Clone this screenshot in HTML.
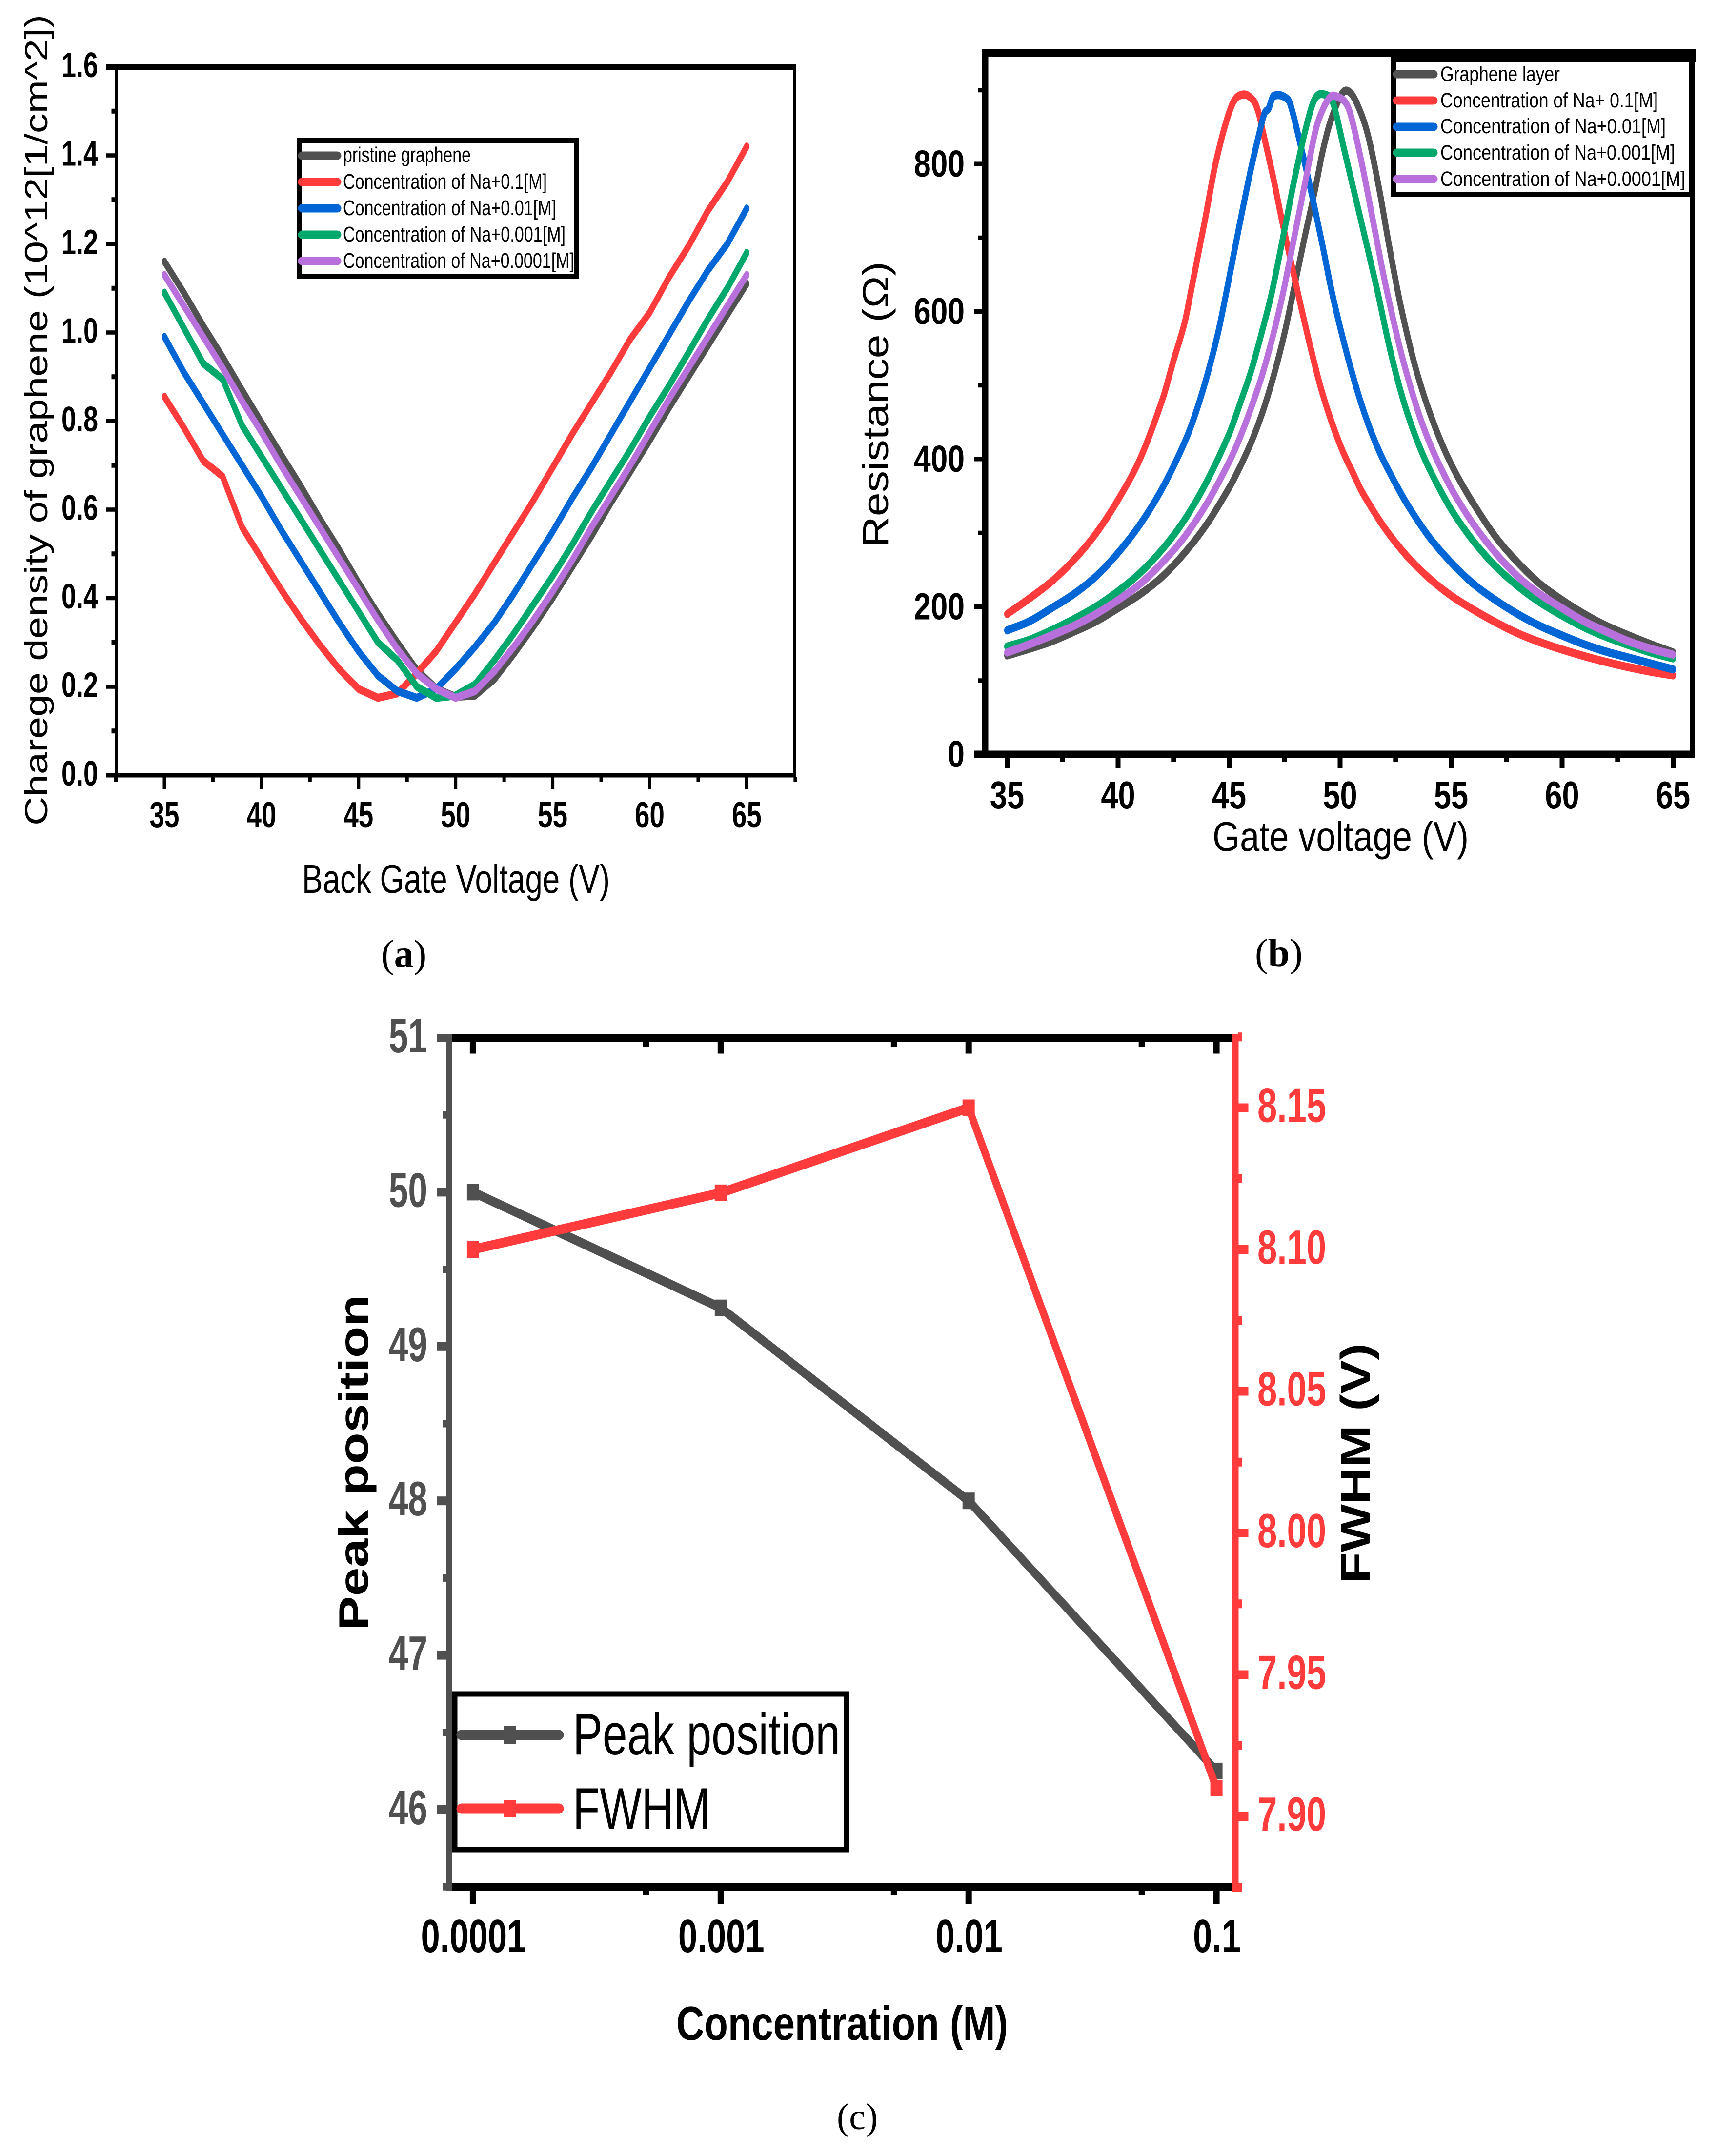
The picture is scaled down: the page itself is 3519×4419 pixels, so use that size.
<!DOCTYPE html>
<html lang="en">
<head>
<meta charset="utf-8">
<title>Graphene charge density, resistance and peak position charts</title>
<style>
html,body{margin:0;padding:0;background:#fff;}
svg{display:block;}
text{font-family:"Liberation Sans",sans-serif;fill:#000;}
.serif{font-family:"Liberation Serif",serif;}
</style>
</head>
<body>
<svg id="figure" xmlns="http://www.w3.org/2000/svg" width="3519" height="4419" viewBox="0 0 3519 4419">
<rect x="0" y="0" width="3519" height="4419" fill="#fff"/>

<!-- PANEL A -->
<g id="panel-a">
  <g id="a-ticks"></g>
  <rect x="217" y="132" width="1414" height="11" fill="#000"/>
  <rect x="235" y="137" width="7" height="1456" fill="#000"/>
  <rect x="1625" y="137" width="6" height="1456" fill="#000"/>
  <rect x="217" y="1584.5" width="1414" height="9" fill="#000"/>
  <g id="a-series"></g>
  <text transform="translate(97,1692) rotate(-90)" font-size="66" textLength="1662" lengthAdjust="spacingAndGlyphs">Charege density of graphene (10^12[1/cm^2])</text>
  <text x="619" y="1830" font-size="83" textLength="631" lengthAdjust="spacingAndGlyphs">Back Gate Voltage (V)</text>
  <g>
    <rect x="613" y="288" width="569" height="278" fill="#fff" stroke="#000" stroke-width="10"/>
    <line x1="619" y1="319" x2="691" y2="319" stroke="#515151" stroke-width="17" stroke-linecap="round"/>
    <line x1="619" y1="373" x2="691" y2="373" stroke="#ff3b3b" stroke-width="17" stroke-linecap="round"/>
    <line x1="619" y1="427" x2="691" y2="427" stroke="#0066d6" stroke-width="17" stroke-linecap="round"/>
    <line x1="619" y1="481" x2="691" y2="481" stroke="#00a86b" stroke-width="17" stroke-linecap="round"/>
    <line x1="619" y1="535" x2="691" y2="535" stroke="#b871dc" stroke-width="17" stroke-linecap="round"/>
    <text x="703" y="332" font-size="44" textLength="262" lengthAdjust="spacingAndGlyphs">pristine graphene</text>
    <text x="703" y="387" font-size="44" textLength="418" lengthAdjust="spacingAndGlyphs">Concentration of Na+0.1[M]</text>
    <text x="703" y="441" font-size="44" textLength="437" lengthAdjust="spacingAndGlyphs">Concentration of Na+0.01[M]</text>
    <text x="703" y="495" font-size="44" textLength="456" lengthAdjust="spacingAndGlyphs">Concentration of Na+0.001[M]</text>
    <text x="703" y="549" font-size="44" textLength="474" lengthAdjust="spacingAndGlyphs">Concentration of Na+0.0001[M]</text>
  </g>
  <text class="serif" x="781" y="1982" font-size="80">(<tspan font-weight="bold" class="serif">a</tspan>)</text>
</g>

<!-- PANEL B -->
<g id="panel-b">
  <g id="b-ticks"></g>
  <rect x="2012" y="101" width="1464" height="16" fill="#000"/>
  <rect x="2012" y="101" width="13.5" height="1453" fill="#000"/>
  <rect x="3463" y="101" width="11" height="1453" fill="#000"/>
  <rect x="1996" y="1538.5" width="1478" height="15.5" fill="#000"/>
  <g id="b-series"></g>
  <text transform="translate(1820,1122) rotate(-90)" font-size="74" textLength="586" lengthAdjust="spacingAndGlyphs">Resistance (Ω)</text>
  <text x="2485" y="1744" font-size="85" textLength="525" lengthAdjust="spacingAndGlyphs">Gate voltage (V)</text>
  <g>
    <rect x="2856" y="112" width="611" height="286" fill="#fff" stroke="#000" stroke-width="10"/>
    <rect x="2852" y="101" width="624" height="27" fill="#000"/>
    <line x1="2863" y1="152" x2="2938" y2="152" stroke="#515151" stroke-width="17" stroke-linecap="round"/>
    <line x1="2863" y1="206" x2="2938" y2="206" stroke="#ff3b3b" stroke-width="17" stroke-linecap="round"/>
    <line x1="2863" y1="260" x2="2938" y2="260" stroke="#0066d6" stroke-width="17" stroke-linecap="round"/>
    <line x1="2863" y1="313" x2="2938" y2="313" stroke="#00a86b" stroke-width="17" stroke-linecap="round"/>
    <line x1="2863" y1="367" x2="2938" y2="367" stroke="#b871dc" stroke-width="17" stroke-linecap="round"/>
    <text x="2952" y="166" font-size="43" textLength="245" lengthAdjust="spacingAndGlyphs">Graphene layer</text>
    <text x="2952" y="220" font-size="43" textLength="446" lengthAdjust="spacingAndGlyphs">Concentration of Na+ 0.1[M]</text>
    <text x="2952" y="273" font-size="43" textLength="462" lengthAdjust="spacingAndGlyphs">Concentration of Na+0.01[M]</text>
    <text x="2952" y="327" font-size="43" textLength="481" lengthAdjust="spacingAndGlyphs">Concentration of Na+0.001[M]</text>
    <text x="2952" y="381" font-size="43" textLength="502" lengthAdjust="spacingAndGlyphs">Concentration of Na+0.0001[M]</text>
  </g>
  <text class="serif" x="2572" y="1980" font-size="80">(<tspan font-weight="bold" class="serif">b</tspan>)</text>
</g>

<!-- PANEL C -->
<g id="panel-c">
  <g id="c-ticks"></g>
  <rect x="921" y="2119" width="1606" height="16" fill="#000"/>
  <rect x="921" y="3859" width="1606" height="16.5" fill="#000"/>
  <rect x="914" y="2119" width="12.5" height="1757" fill="#505050"/>
  <rect x="2525.5" y="2119" width="13" height="1758" fill="#ff3b3b"/>
  <g id="c-series"></g>
  <text transform="translate(754,3342) rotate(-90)" font-size="85" font-weight="bold" textLength="688" lengthAdjust="spacingAndGlyphs">Peak position</text>
  <text transform="translate(2808,3245) rotate(-90)" font-size="86" font-weight="bold" textLength="492" lengthAdjust="spacingAndGlyphs">FWHM (V)</text>
  <text x="1386" y="4181" font-size="98" font-weight="bold" textLength="680" lengthAdjust="spacingAndGlyphs">Concentration (M)</text>
  <g>
    <rect x="932" y="3472" width="803" height="319" fill="#fff" stroke="#000" stroke-width="11"/>
    <line x1="946" y1="3556" x2="1145" y2="3556" stroke="#505050" stroke-width="21" stroke-linecap="round"/>
    <rect x="1033" y="3538" width="24" height="36" fill="#505050"/>
    <line x1="946" y1="3707" x2="1145" y2="3707" stroke="#ff3b3b" stroke-width="21" stroke-linecap="round"/>
    <rect x="1033" y="3689" width="24" height="36" fill="#ff3b3b"/>
    <text x="1174" y="3596" font-size="120" textLength="548" lengthAdjust="spacingAndGlyphs">Peak position</text>
    <text x="1174" y="3748" font-size="120" textLength="282" lengthAdjust="spacingAndGlyphs">FWHM</text>
  </g>
  <text class="serif" x="1715" y="4364" font-size="76">(c)</text>
</g>
</svg>

<script>
// ===== Panel A data =====
const aVoltage = [35,36,37,38,39,40,41,42,43,44,45,46,47,48,49,50,51,52,53,54,55,56,57,58,59,60,61,62,63,64,65];
const aPristine = [1.16,1.09,1.015,0.945,0.87,0.797,0.725,0.655,0.58,0.51,0.435,0.365,0.30,0.238,0.196,0.177,0.18,0.217,0.274,0.335,0.40,0.47,0.54,0.615,0.685,0.756,0.83,0.90,0.97,1.04,1.11];
const aNa01 = [0.855,0.785,0.71,0.675,0.56,0.49,0.42,0.355,0.295,0.24,0.195,0.175,0.185,0.23,0.28,0.345,0.41,0.48,0.55,0.62,0.695,0.77,0.84,0.91,0.985,1.045,1.125,1.195,1.275,1.34,1.42];
const aNa001 = [0.99,0.91,0.84,0.77,0.70,0.63,0.555,0.485,0.415,0.345,0.28,0.225,0.19,0.175,0.195,0.24,0.29,0.345,0.41,0.48,0.55,0.625,0.695,0.77,0.845,0.92,0.995,1.07,1.14,1.2,1.28];
const aNa0001 = [1.09,1.01,0.93,0.895,0.79,0.72,0.65,0.58,0.51,0.44,0.37,0.30,0.26,0.20,0.175,0.18,0.205,0.26,0.32,0.385,0.45,0.52,0.595,0.665,0.735,0.81,0.88,0.955,1.03,1.10,1.18];
const aNa00001 = [1.13,1.06,0.99,0.92,0.845,0.775,0.70,0.63,0.56,0.49,0.42,0.35,0.285,0.23,0.195,0.175,0.19,0.235,0.29,0.35,0.415,0.485,0.56,0.63,0.70,0.775,0.85,0.92,0.99,1.06,1.13];
const aXMajor = [35,40,45,50,55,60,65];
const aXMinor = [32.5,37.5,42.5,47.5,52.5,57.5,62.5,67.5];
const aYMajor = [0,0.2,0.4,0.6,0.8,1.0,1.2,1.4,1.6];
const aYMinor = [0.1,0.3,0.5,0.7,0.9,1.1,1.3,1.5];
const aXLabels = ['35','40','45','50','55','60','65'];
const aYLabels = ['0.0','0.2','0.4','0.6','0.8','1.0','1.2','1.4','1.6'];

// ===== Panel B data =====
const bGrapheneV = [35,36,37,38,39,40,41,42,43,44,45,45.5,46,46.5,47,47.5,47.88,48.4,48.9,49.2,49.56,50.08,50.4,50.74,51.24,51.76,52.2,52.7,53.3,53.8,54.3,54.8,55.3,56,57,58,59,60,61,62,63,64,65];
const bGrapheneR = [134,143,153,166,180,198,217,241,273,312,361,390,423,463,512,571,625,700,769,815,857,895,898,883,841,766,691,612,535,484,442,406,376,340,295,260,231,209,190,174,161,149,138];
const bNa01V = [35,36,37,38,39,40,41,42,42.5,43,43.3,43.92,44.43,45.13,45.64,46.12,46.34,46.56,47,47.37,47.66,48.1,48.6,49.1,49.6,50.1,50.6,51,52,53,54,55,56,57,58,59,60,61,62,63,64,65];
const bNa01R = [190,211,234,263,299,345,401,481,534,585,630,725,806,880,894,885,868,839,780,725,685,625,560,500,452,412,380,355,307,269,239,215,196,179,164,152,142,133,125,118,112,107];
const bNa001V = [35,36,37,38,39,40,41,42,43,43.5,44,44.5,44.87,45.46,45.97,46.41,46.6,46.78,47,47.66,47.88,48.17,48.5,48.83,49.2,49.64,50.2,50.8,51.3,51.8,52.3,53,54,55,56,57,58,59,60,61,62,63,64,65];
const bNa001R = [168,180,198,217,241,273,312,361,423,463,512,571,625,716,791,848,869,875,892,887,868,832,789,744,691,625,555,490,445,408,378,340,295,260,231,209,190,174,161,149,139,131,123,115];
const bNa0001V = [35,36,37,38,39,40,41,42,43,44,45,45.5,46,46.5,46.92,47.57,47.95,48.53,48.9,49.4,49.7,50.15,50.58,51.1,51.7,52.2,52.7,53.2,53.7,54.2,55,56,57,58,59,60,61,62,63,64,65];
const bNa0001R = [146,155,168,183,200,221,246,278,318,370,434,476,520,575,625,722,780,857,890,893,881,824,769,703,625,555,495,447,408,376,332,289,255,228,206,188,172,159,148,138,130];
const bNa00001V = [35,36,37,38,39,40,41,42,43,44,45,45.5,46,46.5,47,47.43,47.87,48.46,48.9,49.27,49.57,49.79,50.25,50.51,50.97,51.4,51.9,52.2,52.7,53.2,53.7,54.2,54.7,55.2,56,57,58,59,60,61,62,63,64,65];
const bNa00001R = [138,149,161,174,190,209,231,260,295,340,396,430,470,515,570,625,691,780,846,877,891,892,883,863,802,736,658,615,550,495,448,410,378,350,312,273,241,217,198,180,166,153,143,135];
const bXMajor = [35,40,45,50,55,60,65];
const bXMinor = [37.5,42.5,47.5,52.5,57.5,62.5];
const bYMajor = [0,200,400,600,800];
const bYMinor = [100,300,500,700,900];
const bXLabels = ['35','40','45','50','55','60','65'];
const bYLabels = ['0','200','400','600','800'];

// ===== Panel C data =====
const cConcentration = [0.0001,0.001,0.01,0.1];
const cPeakPosition = [50,49.25,48,46.25];
const cFwhm = [8.10,8.12,8.15,7.91];
const cXMinor = [0.0005,0.005,0.05];
const cXLabels = ['0.0001','0.001','0.01','0.1'];
const cLeftMajor = [46,47,48,49,50,51];
const cLeftMinor = [45.5,46.5,47.5,48.5,49.5,50.5];
const cLeftLabels = ['46','47','48','49','50','51'];
const cRightMajor = [7.90,7.95,8.00,8.05,8.10,8.15];
const cRightMinor = [7.875,7.925,7.975,8.025,8.075,8.125,8.175];
const cRightLabels = ['7.90','7.95','8.00','8.05','8.10','8.15'];

// ===== Axis functions =====
const xA = v => 337 + (v - 35) * 39.78;
const yA = v => 1589 - v * 907.5;
const xB = v => 2064 + (v - 35) * 45.5;
const yB = r => 1546 - r * 1.5125;
const xC = c => 969.4 + (Math.log10(c) + 4) * 507.9;
const yCPeak = v => 2127 + (51 - v) * 316.4;
const yCFwhm = f => 3723 - (f - 7.9) * 5810;

const NS = 'http://www.w3.org/2000/svg';

function rect(parent, name, cx, cy, w, h, fill) {
  const el = document.createElementNS(NS, 'rect');
  
  
  el.setAttribute('x', cx - w / 2);
  el.setAttribute('y', cy - h / 2);
  el.setAttribute('width', w);
  el.setAttribute('height', h);
  el.setAttribute('fill', fill);
  parent.appendChild(el);
}

function label(parent, name, str, x, y, size, sx, anchor, fill) {
  const el = document.createElementNS(NS, 'text');
  
  
  el.setAttribute('transform', 'translate(' + x + ',' + y + ') scale(' + sx + ',1)');
  el.setAttribute('font-size', size);
  el.setAttribute('font-weight', 'bold');
  el.setAttribute('text-anchor', anchor);
  el.style.fill = fill;
  el.textContent = str;
  parent.appendChild(el);
}

// The source image is stretched vertically, so strokes are drawn in a
// y-compressed coordinate system (sy) to get the same anisotropic thickness.
function pathData(xs, ys, fx, fy, sy, smooth) {
  const px = xs.map(fx);
  const py = ys.map(y => fy(y) / sy);
  let d = 'M' + px[0].toFixed(1) + ' ' + py[0].toFixed(1);
  const slope = i => {
    const a = Math.max(i - 1, 0);
    const b = Math.min(i + 1, px.length - 1);
    return (py[b] - py[a]) / (px[b] - px[a]);
  };
  for (let i = 1; i < px.length; i++) {
    if (smooth) {
      const dx = (px[i] - px[i - 1]) / 3;
      const c1y = py[i - 1] + slope(i - 1) * dx;
      const c2y = py[i] - slope(i) * dx;
      d += 'C' + (px[i - 1] + dx).toFixed(1) + ' ' + c1y.toFixed(1) + ' ' + (px[i] - dx).toFixed(1) + ' ' + c2y.toFixed(1) + ' ' + px[i].toFixed(1) + ' ' + py[i].toFixed(1);
    } else {
      d += 'L' + px[i].toFixed(1) + ' ' + py[i].toFixed(1);
    }
  }
  return d;
}

function series(parent, name, xs, ys, fx, fy, color, width, sy, smooth, join) {
  const el = document.createElementNS(NS, 'path');
  
  
  el.setAttribute('d', pathData(xs, ys, fx, fy, sy, smooth));
  el.setAttribute('transform', 'scale(1,' + sy + ')');
  el.setAttribute('fill', 'none');
  el.setAttribute('stroke', color);
  el.setAttribute('stroke-width', width);
  el.setAttribute('stroke-linejoin', join);
  el.setAttribute('stroke-linecap', 'round');
  parent.appendChild(el);
}

const GREY = '#515151', RED = '#ff3b3b', BLUE = '#0066d6', GREEN = '#00a86b', PURPLE = '#b871dc';

// ===== Panel A =====
const aT = document.getElementById('a-ticks');
aXMajor.forEach((v, i) => {
  rect(aT, 'a-x-tick-major', xA(v), 1605, 7, 24, '#000');
  label(aT, 'a-x-tick-label', aXLabels[i], xA(v), 1696, 75, 0.73, 'middle', '#000');
});
aXMinor.forEach(v => {
  rect(aT, 'a-x-tick-minor', xA(v), 1598, 7, 10, '#000');
});
aYMajor.forEach((v, i) => {
  rect(aT, 'a-y-tick-major', 227, yA(v), 18, 8.5, '#000');
  label(aT, 'a-y-tick-label', aYLabels[i], 201, yA(v) + 21, 72, 0.75, 'end', '#000');
});
aYMinor.forEach(v => {
  rect(aT, 'a-y-tick-minor', 232, yA(v), 7, 10, '#000');
});
const aS = document.getElementById('a-series');
series(aS, 'a-line-pristine', aVoltage, aPristine, xA, yA, GREY, 11, 1.5, false, 'round');
series(aS, 'a-line-0.1m', aVoltage, aNa01, xA, yA, RED, 11, 1.5, false, 'round');
series(aS, 'a-line-0.01m', aVoltage, aNa001, xA, yA, BLUE, 11, 1.5, false, 'round');
series(aS, 'a-line-0.001m', aVoltage, aNa0001, xA, yA, GREEN, 11, 1.5, false, 'round');
series(aS, 'a-line-0.0001m', aVoltage, aNa00001, xA, yA, PURPLE, 11, 1.5, false, 'round');

// ===== Panel B =====
const bT = document.getElementById('b-ticks');
bXMajor.forEach((v, i) => {
  rect(bT, 'b-x-tick-major', xB(v), 1562, 10, 24, '#000');
  label(bT, 'b-x-tick-label', bXLabels[i], xB(v), 1657, 80, 0.79, 'middle', '#000');
});
bXMinor.forEach(v => {
  rect(bT, 'b-x-tick-minor', xB(v), 1556, 10, 10, '#000');
});
bYMajor.forEach((v, i) => {
  rect(bT, 'b-y-tick-major', 2004, yB(v), 16, 9, '#000');
  label(bT, 'b-y-tick-label', bYLabels[i], 1977, yB(v) + 26, 77, 0.81, 'end', '#000');
});
bYMinor.forEach(v => {
  rect(bT, 'b-y-tick-minor', 2008.5, yB(v), 7, 9, '#000');
});
const bS = document.getElementById('b-series');
series(bS, 'b-line-graphene-layer', bGrapheneV, bGrapheneR, xB, yB, GREY, 12, 1.4, true, 'round');
series(bS, 'b-line-0.1m', bNa01V, bNa01R, xB, yB, RED, 12, 1.4, true, 'round');
series(bS, 'b-line-0.01m', bNa001V, bNa001R, xB, yB, BLUE, 12, 1.4, true, 'round');
series(bS, 'b-line-0.001m', bNa0001V, bNa0001R, xB, yB, GREEN, 12, 1.4, true, 'round');
series(bS, 'b-line-0.0001m', bNa00001V, bNa00001R, xB, yB, PURPLE, 12, 1.4, true, 'round');

// ===== Panel C =====
const cT = document.getElementById('c-ticks');
cConcentration.forEach((c, i) => {
  rect(cT, 'c-x-tick-major', xC(c), 3889, 13, 27, '#000');
  rect(cT, 'c-top-tick-major', xC(c), 2147, 13, 25, '#000');
  label(cT, 'c-x-tick-label', cXLabels[i], xC(c) + 1, 4001, 96, 0.735, 'middle', '#000');
});
cXMinor.forEach(c => {
  rect(cT, 'c-x-tick-minor', xC(c), 3880, 13, 10, '#000');
  rect(cT, 'c-top-tick-minor', xC(c), 2140, 13, 10, '#000');
});
cLeftMajor.forEach((v, i) => {
  rect(cT, 'c-left-tick-major', 905, yCPeak(v), 20, i === 5 ? 16 : 18, '#505050');
  label(cT, 'c-left-tick-label', cLeftLabels[i], 876, yCPeak(v) + 30, 99, 0.72, 'end', '#505050');
});
cLeftMinor.forEach(v => {
  rect(cT, 'c-left-tick-minor', 911, yCPeak(v), 7, 15, '#505050');
});
cRightMajor.forEach((v, i) => {
  rect(cT, 'c-right-tick-major', 2548, yCFwhm(v), 21, 18, RED);
  label(cT, 'c-right-tick-label', cRightLabels[i], 2577, yCFwhm(v) + 29, 98, 0.74, 'start', RED);
});
cRightMinor.forEach(v => {
  rect(cT, 'c-right-tick-minor', 2541.5, yCFwhm(v), 7, 18, RED);
});
const cS = document.getElementById('c-series');
series(cS, 'c-line-peak-position', cConcentration, cPeakPosition, xC, yCPeak, '#505050', 14.5, 1.35, false, 'miter');
cConcentration.forEach((c, i) => {
  rect(cS, 'c-marker-peak-position', xC(c), yCPeak(cPeakPosition[i]), 25, 34, '#505050');
});
series(cS, 'c-line-fwhm', cConcentration, cFwhm, xC, yCFwhm, RED, 14.5, 1.35, false, 'miter');
cConcentration.forEach((c, i) => {
  rect(cS, 'c-marker-fwhm', xC(c), yCFwhm(cFwhm[i]), 25, 34, RED);
});
</script>
</body>
</html>
